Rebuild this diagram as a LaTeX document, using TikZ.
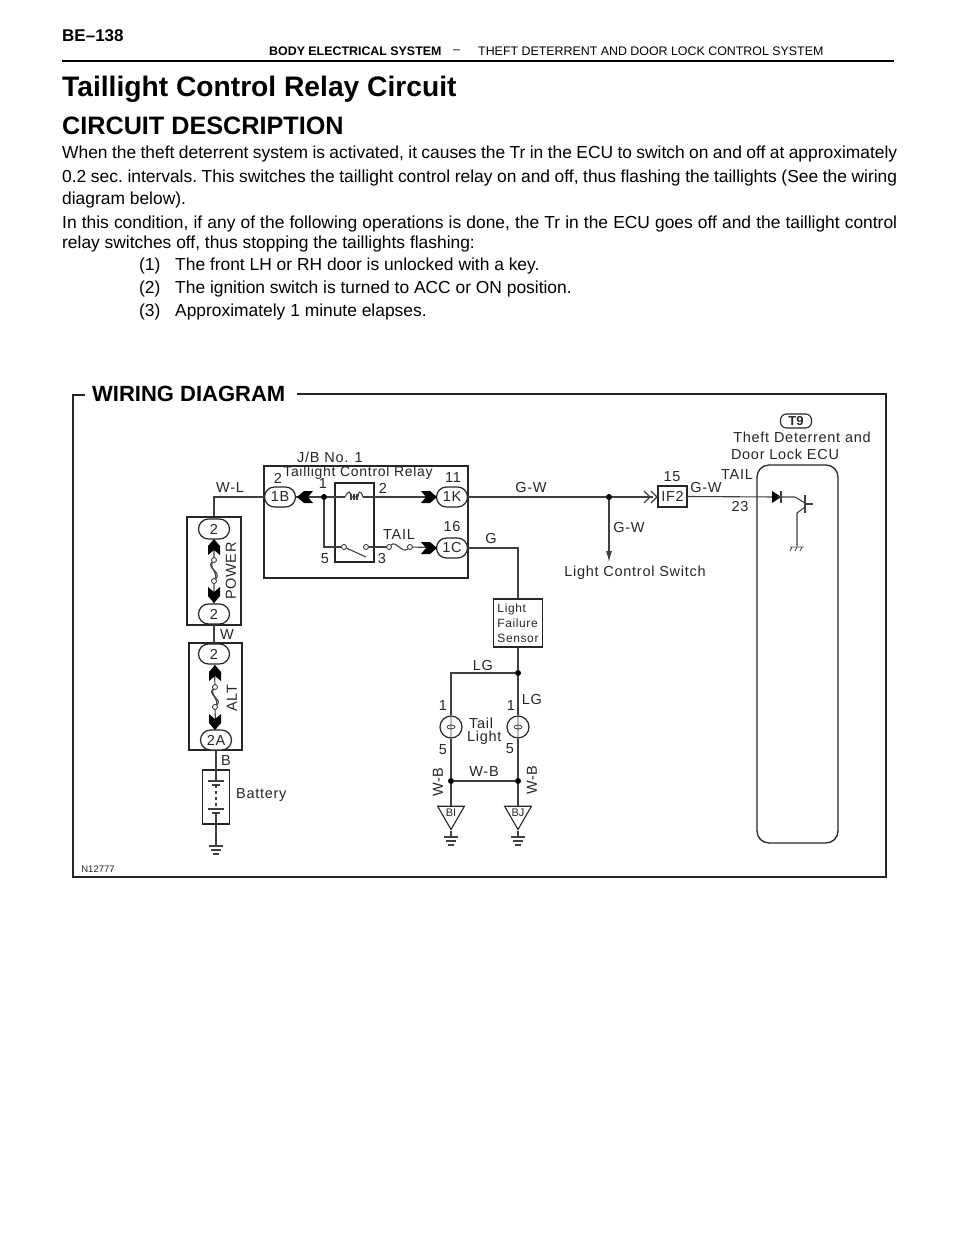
\documentclass[tikz,border=0pt]{standalone}
\usepackage{fontspec}
\setmainfont{Liberation Sans}
\newfontfamily\lblfont[LetterSpace=5]{Liberation Sans}
\usetikzlibrary{positioning,shapes.geometric,arrows,arrows.meta}
\definecolor{wire}{gray}{0.25}
\definecolor{ink}{gray}{0.15}
\newcommand{\fs}[1]{\fontsize{#1}{#1}\selectfont}
\newcommand{\jline}[1]{\makebox[835pt][s]{\frenchspacing #1}}
\tikzset{
	x=1pt,y=-1pt,
	lbl/.style={inner sep=0pt,text=ink,font=\lblfont\fs{14.5}},
	small/.style={inner sep=0pt,text=ink,font=\fs{12}},
	body/.style={inner sep=0pt,anchor=west,text=black,font=\fs{17.4}},
	wr/.style={draw=wire,line width=1.1pt},
	conn/.style={draw=ink,line width=1.2pt,fill=white,rounded corners=10pt,minimum width=31pt,minimum height=20pt,inner sep=0pt,text=ink,font=\lblfont\fs{14.5}},
	boxn/.style={draw=ink,line width=1.2pt,inner sep=0pt},
	dot/.style={circle,fill=black,inner sep=0pt,minimum size=6pt},
	term/.style={circle,draw=ink,fill=white,line width=.8pt,inner sep=0pt,minimum size=5pt},
	chev/.pic={\fill[black] (-8,-6) -- (1,-6) -- (8,0) -- (1,6) -- (-8,6) -- (-3,0) -- cycle;},
	gnd/.pic={\draw[wr] (-7,0) -- (7,0) (-5,4) -- (5,4) (-3,8) -- (3,8);},
	lamp/.style={circle,draw=ink,line width=1.2pt,fill=white,inner sep=0pt,minimum size=22pt},
	earth/.style={regular polygon,regular polygon sides=3,shape border rotate=180,draw=ink,line width=1.1pt,inner sep=0pt,minimum size=31pt},
}
\begin{document}
\begin{tikzpicture}
	\useasboundingbox (0,0) rectangle (960,1242);
	% page text
	\node[body,font=\fs{17}\bfseries] (page) at (62,36) {BE--138};
	\node[body,font=\fs{12.4}\bfseries] (headA) at (269,51) {BODY ELECTRICAL SYSTEM};
	\node[body,font=\fs{12.4}] (headB) at (453,52) {--};
	\node[body,font=\fs{12.4}] (headC) at (478,51) {THEFT DETERRENT AND DOOR LOCK CONTROL SYSTEM};
	\draw[line width=1.6pt] (62,61) -- (894,61);
	\node[body,font=\fs{28.2}\bfseries] (title) at (62,89) {Taillight Control Relay Circuit};
	\node[body,font=\fs{25.2}\bfseries] (sub) at (62,126) {CIRCUIT DESCRIPTION};
	\node[body] (p1) at (62,154) {\jline{When the theft deterrent system is activated, it causes the Tr in the ECU to switch on and off at approximately}};
	\node[body] (p2) at (62,178) {\jline{0.2 sec. intervals. This switches the taillight control relay on and off, thus flashing the taillights (See the wiring}};
	\node[body] (p3) at (62,200) {diagram below).};
	\node[body] (p4) at (62,224) {\jline{In this condition, if any of the following operations is done, the Tr in the ECU goes off and the taillight control}};
	\node[body] (p5) at (62,244) {relay switches off, thus stopping the taillights flashing:};
	\node[body] (n1) at (139,266) {(1)};
	\node[body] (t1) at (175,266) {The front LH or RH door is unlocked with a key.};
	\node[body] (n2) at (139,289) {(2)};
	\node[body] (t2) at (175,289) {The ignition switch is turned to ACC or ON position.};
	\node[body] (n3) at (139,312) {(3)};
	\node[body] (t3) at (175,312) {Approximately 1 minute elapses.};
	% frame
	\node[lbl,anchor=west,text=black,font=\fs{22}\bfseries] (wd) at (92,394) {WIRING DIAGRAM};
	\draw[ink,line width=1.4pt] (85,395) -- (73,395) -- (73,877) -- (886,877) -- (886,394) -- (297,394);
	\node[small,font=\fs{9.5}] (code) at (98,869) {N12777};
	% J/B block
	\node[boxn,minimum width=204pt,minimum height=112pt] (jb) at (366,522) {};
	\node[boxn,minimum width=39pt,minimum height=79pt] (relay) at (354.5,522.5) {};
	\node[conn] (c1B) at (280,497) {1B};
	\node[conn] (c1K) at (452,497) {1K};
	\node[conn] (c1C) at (452,548) {1C};
	\node[dot] (d1) at (324,497) {};
	\node[term] (sw1) at (344,547) {};
	\node[term] (sw2) at (366,547) {};
	\node[term] (fa) at (389,547) {};
	\node[term] (fb) at (410,547) {};
	\coordinate (coilL) at (345,497);
	\coordinate (coilR) at (363,497);
	\coordinate (bladeEnd) at (366,557);
	\draw[wr] (c1B) -- (d1) -- (coilL);
	\draw[wr] (coilL) .. controls (348,490) and (351,491) .. (351,497) (351,497) -- (358,497) (358,497) .. controls (358,491) and (361,490) .. (coilR);
	\draw[wr] (354,494) -- (354,500) (351,494) -- (351,500) (357,494) -- (357,500);
	\draw[wr] (coilR) -- (c1K);
	\draw[wr] (d1) |- (sw1);
	\draw[wr] (sw1) -- (bladeEnd);
	\draw[wr] (sw2) -- (fa);
	\draw[wr] (fa) .. controls (396,540) and (402,554) .. (fb);
	\draw[wr] (fb) -- (c1C);
	\pic[rotate=180] at (305,497) {chev};
	\pic at (429,497) {chev};
	\pic at (429,548) {chev};
	\node[lbl] (jbl) at (330,457) {J/B No. 1};
	\node[lbl,font=\lblfont\fs{14}] (rel) at (358,473) {Taillight Control Relay};
	\node[lbl] (p1B) at (278,478) {2};
	\node[lbl] (p1K) at (453,478) {11};
	\node[lbl] (p1C) at (452,527) {16};
	\node[lbl] (r1) at (323,484) {1};
	\node[lbl] (r2) at (383,488) {2};
	\node[lbl] (r5) at (325,559) {5};
	\node[lbl] (r3) at (382,559) {3};
	\node[lbl] (tl) at (399,535) {TAIL};
	% power and alt fuses
	\node[boxn,minimum width=54pt,minimum height=108pt] (pwr) at (214,571) {};
	\node[boxn,minimum width=53pt,minimum height=107pt] (alt) at (215.5,696.5) {};
	\node[conn] (pA) at (214,529) {2};
	\node[conn] (pB) at (214,614) {2};
	\node[conn] (aA) at (214,654) {2};
	\node[conn] (aB) at (216,740) {2A};
	\node[term] (pF1) at (214,560) {};
	\node[term] (pF2) at (214,581) {};
	\node[term] (aF1) at (215,687) {};
	\node[term] (aF2) at (215,707) {};
	\draw[wr] (pA) -- (pF1) (pF2) -- (pB) (aA) -- (aF1) (aF2) -- (aB);
	\draw[wr] (pF1) .. controls (206,568) and (222,572) .. (pF2);
	\draw[wr] (pF1) .. controls (209,566) and (218,574) .. (pF2);
	\draw[wr] (aF1) .. controls (207,695) and (223,699) .. (aF2);
	\draw[wr] (aF1) .. controls (210,693) and (219,701) .. (aF2);
	\pic[rotate=90] at (214,547) {chev};
	\pic[rotate=-90] at (214,595) {chev};
	\pic[rotate=90] at (215,673) {chev};
	\pic[rotate=-90] at (215,722) {chev};
	\node[lbl,rotate=90] (pl) at (231,571) {POWER};
	\node[lbl,rotate=90] (al) at (232,698) {ALT};
	\draw[wr] (pwr.north) |- (c1B.west);
	\draw[wr] (pB.south) -- (aA.north);
	\node[lbl] (wl) at (230,488) {W-L};
	\node[lbl] (wlb) at (227,635) {W};
	% battery
	\node[boxn,minimum width=27pt,minimum height=54pt] (bat) at (216,797) {};
	\coordinate (gA) at (216,846);
	\draw[wr] (aB.south) -- (bat.north);
	\draw[wr] (bat.north) -- (216,781) (208,781) -- (224,781) (212,785) -- (220,785);
	\draw[wr,dashed] (216,785) -- (216,809);
	\draw[wr] (208,809) -- (224,809) (212,813) -- (220,813) (216,813) -- (gA);
	\pic at (gA) {gnd};
	\node[lbl] (bl) at (226,761) {B};
	\node[lbl,anchor=west] (batl) at (236,795) {Battery};
	% sensor and tail lights
	\node[boxn,minimum width=49pt,minimum height=48pt,align=left,font=\lblfont\fs{12},text=ink] (lfs) at (518,623) {Light\\[3pt]Failure\\[3pt]Sensor};
	\node[dot] (d2) at (518,673) {};
	\node[dot] (d3) at (451,781) {};
	\node[dot] (d4) at (518,781) {};
	\coordinate (cLG) at (451,673);
	\node[lamp] (lmpL) at (451,727) {};
	\node[lamp] (lmpR) at (518,727) {};
	\node[earth] (eL) at (451,814) {};
	\node[earth] (eR) at (518,814) {};
	\node[inner sep=0pt,text=ink,font=\fs{11}] (eLt) at (451,813) {BI};
	\node[inner sep=0pt,text=ink,font=\fs{11}] (eRt) at (518,813) {BJ};
	\coordinate (gL) at (451,837);
	\coordinate (gR) at (518,837);
	\draw[wr] (c1C.east) -| (lfs.north);
	\draw[wr] (lfs.south) -- (d2) -- (lmpR.north);
	\draw[wr] (d2) -- (cLG) -- (lmpL.north);
	\draw[wr] (lmpL.south) -- (d3) -- (eL.north);
	\draw[wr] (lmpR.south) -- (d4) -- (eR.north);
	\draw[wr] (d3) -- (d4);
	\draw[wr] (eL.south) -- (gL);
	\draw[wr] (eR.south) -- (gR);
	\pic at (gL) {gnd};
	\pic at (gR) {gnd};
	\draw[wr,line width=.8pt] (lmpL.north) -- (451,723) (lmpL.south) -- (451,731) (451,723) -- (451,731) (451,727) ellipse (4 and 2);
	\draw[wr,line width=.8pt] (lmpR.north) -- (518,723) (lmpR.south) -- (518,731) (518,723) -- (518,731) (518,727) ellipse (4 and 2);
	\node[lbl] (gl) at (491,539) {G};
	\node[lbl] (lg1) at (483,665) {LG};
	\node[lbl] (lg2) at (532,699) {LG};
	\node[lbl] (l1) at (443,706) {1};
	\node[lbl] (l2) at (511,706) {1};
	\node[lbl] (l3) at (443,750) {5};
	\node[lbl] (l4) at (510,749) {5};
	\node[lbl,anchor=west] (tt) at (469,723) {Tail};
	\node[lbl,anchor=west] (tt2) at (467,738) {Light};
	\node[lbl] (wb) at (484,772) {W-B};
	\node[lbl,rotate=90] (wb1) at (438,782) {W-B};
	\node[lbl,rotate=90] (wb2) at (532,780) {W-B};
	% top line and ECU
	\node[dot] (d5) at (609,497) {};
	\node[boxn,minimum width=29pt,minimum height=21pt,text=ink,font=\lblfont\fs{14.5}] (if2) at (672.5,496.5) {IF2};
	\draw[draw=ink,rounded corners=12pt,line width=1.3pt] (757,843) rectangle (838,465);
	\node[inner sep=0pt,minimum width=0pt] (dio) at (777,497) {};
	\coordinate (swE) at (609,562);
	\coordinate (chA) at (653,497);
	\draw[wr] (c1K.east) -- (d5) -- (chA);
	\draw[wr] (644,491) -- (650,497) -- (644,503) (651,491) -- (657,497) -- (651,503);
	\draw[wr,-{Latex[length=11pt,width=6pt]}] (d5) -- (swE);
	\draw[wr] (if2.east) -- (dio);
	\fill[black] (772,491) -- (772,503) -- (781,497) -- cycle;
	\draw[wr] (781,491) -- (781,503);
	\draw[wr] (dio) -- (795,497) -- (805,503);
	\draw[wr,line width=1.6pt] (805,495) -- (805,513);
	\draw[wr] (805,504) -- (813,504);
	\draw[wr] (805,507) -- (797,513) -- (797,546);
	\draw[wr,line width=.8pt] (790,547) -- (804,547) (792,547) -- (790,551) (797,547) -- (795,551) (802,547) -- (800,551);
	\node[draw=ink,line width=1.1pt,rounded corners=6pt,minimum width=31pt,minimum height=14pt,inner sep=0pt,font=\fs{13}\bfseries,text=ink] (t9) at (796,421) {T9};
	\node[lbl] (ecu1) at (802,437) {Theft Deterrent and};
	\node[lbl] (ecu2) at (785,454) {Door Lock ECU};
	\node[lbl] (tail2) at (737,475) {TAIL};
	\node[lbl] (pin23) at (740,507) {23};
	\node[lbl] (pin15) at (672,477) {15};
	\node[lbl] (gw1) at (531,488) {G-W};
	\node[lbl] (gw2) at (706,488) {G-W};
	\node[lbl] (gw3) at (629,528) {G-W};
	\node[lbl] (lcs) at (635,573) {Light Control Switch};
\end{tikzpicture}
\end{document}
